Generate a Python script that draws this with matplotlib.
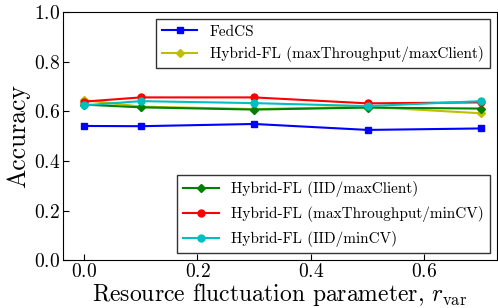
import numpy as np
import matplotlib
matplotlib.use("Agg")
import matplotlib.pyplot as plt

plt.rcParams['font.family'] = 'serif'
plt.rcParams['font.serif'] = ['cmr10', 'DejaVu Serif']
plt.rcParams['mathtext.fontset'] = 'cm'
plt.rcParams['axes.formatter.use_mathtext'] = True

r_var = [0.0, 0.1, 0.3, 0.5, 0.7]
fedcs = [0.541, 0.540, 0.549, 0.525, 0.531]
hyb_tp_maxclient = [0.645, 0.619, 0.609, 0.618, 0.592]
hyb_iid_maxclient = [0.627, 0.616, 0.607, 0.615, 0.611]
hyb_tp_mincv = [0.639, 0.656, 0.656, 0.632, 0.636]
hyb_iid_mincv = [0.624, 0.641, 0.633, 0.621, 0.641]

fig = plt.figure(figsize=(4.98, 3.08), dpi=100)
ax = fig.add_axes([0.1265, 0.155, 0.8705, 0.806])

l1, = ax.plot(r_var, fedcs, 'b-', marker='s', ms=5, label='FedCS')
l2, = ax.plot(r_var, hyb_tp_maxclient, '-', color='y', marker='D', ms=4,
              label='Hybrid-FL (maxThroughput/maxClient)')
l3, = ax.plot(r_var, hyb_iid_maxclient, '-', color='g', marker='D', ms=4,
              label='Hybrid-FL (IID/maxClient)')
l4, = ax.plot(r_var, hyb_tp_mincv, 'r-', marker='o', ms=5,
              label='Hybrid-FL (maxThroughput/minCV)')
l5, = ax.plot(r_var, hyb_iid_mincv, 'c-', marker='o', ms=5,
              label='Hybrid-FL (IID/minCV)')

ax.set_xlim(-0.037, 0.727)
ax.set_ylim(0.0, 1.0)
ax.set_xticks([0.0, 0.2, 0.4, 0.6])
ax.set_yticks([0.0, 0.2, 0.4, 0.6, 0.8, 1.0])
ax.tick_params(direction='in', labelsize=14, length=4, pad=2)
ax.set_xlabel(r'Resource fluctuation parameter, $r_{\rm var}$', fontsize=17, labelpad=0)
ax.set_ylabel('Accuracy', fontsize=18.5, labelpad=3)

leg1 = ax.legend(handles=[l1, l2], loc='upper right', fontsize=11,
                 fancybox=False, edgecolor='k', handlelength=2.3,
                 borderaxespad=0.45)
leg1.get_frame().set_linewidth(1.0)
ax.add_artist(leg1)
leg2 = ax.legend(handles=[l3, l4, l5], loc='lower right', fontsize=11,
                 fancybox=False, edgecolor='k', handlelength=2.3,
                 labelspacing=0.6, borderaxespad=0.45)
leg2.get_frame().set_linewidth(1.0)

fig.savefig('out.png', dpi=100)
